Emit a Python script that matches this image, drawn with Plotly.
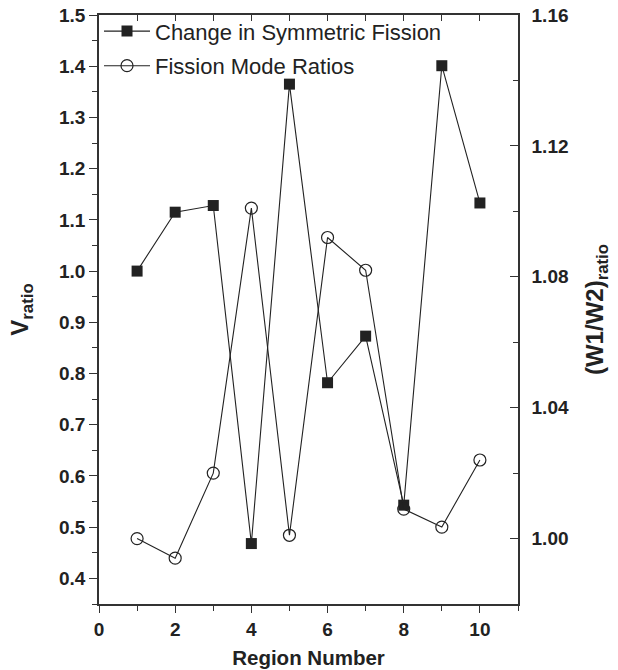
import plotly.graph_objects as go

regions = [1, 2, 3, 4, 5, 6, 7, 8, 9, 10]
v_ratio = [1.00, 1.115, 1.128, 0.468, 1.365, 0.782, 0.873, 0.543, 1.401, 1.133]
w_ratio = [1.000, 0.994, 1.020, 1.101, 1.001, 1.092, 1.082, 1.009, 1.0035, 1.024]

name_sq = "Change in Symmetric Fission"
name_ci = "Fission Mode Ratios"

C = "#222222"
AX = "#333333"
FONT = "Liberation Sans, Arial, sans-serif"

fig = go.Figure()
fig.add_trace(go.Scatter(
    x=regions, y=v_ratio, name=name_sq, mode="lines+markers",
    line=dict(color=C, width=1.1),
    marker=dict(symbol="square", size=11, color=C, line=dict(width=0)),
    xaxis="x", yaxis="y", legendgroup="a",
))
fig.add_trace(go.Scatter(
    x=regions, y=w_ratio, name=name_ci, mode="lines+markers",
    line=dict(color=C, width=1.1),
    marker=dict(symbol="circle-open", size=12, color=C, line=dict(width=1.2)),
    xaxis="x2", yaxis="y2", legendgroup="b",
))

fig.update_layout(
    width=618, height=670,
    margin=dict(l=99, r=100, t=15, b=66, autoexpand=False),
    paper_bgcolor="white", plot_bgcolor="white",
    font=dict(family=FONT, color=C),
    showlegend=True,
    legend=dict(x=0.0, y=1.008, xanchor="left", yanchor="top",
                bgcolor="rgba(0,0,0,0)", font=dict(size=22, color=C),
                tracegroupgap=3, itemwidth=46),
    xaxis=dict(
        range=[0, 11], tickmode="array", tickvals=[0, 2, 4, 6, 8, 10],
        ticks="outside", ticklen=7, tickwidth=1.3, tickcolor=AX,
        showline=True, linecolor=AX, linewidth=1.5, showgrid=False, zeroline=False,
        minor=dict(tickvals=[1, 3, 5, 7, 9, 11], ticks="outside", ticklen=5, tickwidth=1.3, tickcolor=AX),
        tickfont=dict(size=19, family=FONT, color=C, weight="bold"),
        automargin=False,
        title=dict(text="<b>Region Number</b>", font=dict(size=20.5, family=FONT, color=C), standoff=12),
    ),
    xaxis2=dict(
        range=[0, 11], overlaying="x", side="top", anchor="y",
        tickmode="array", tickvals=[0, 1, 2, 3, 4, 5, 6, 7, 8, 9, 10, 11],
        ticks="inside", ticklen=6, tickwidth=1.3, tickcolor=AX,
        showticklabels=False, showline=True, linecolor=AX, linewidth=1.5,
        showgrid=False, zeroline=False, automargin=False,
    ),
    yaxis=dict(
        range=[0.35, 1.5], tickmode="array",
        tickvals=[0.4, 0.5, 0.6, 0.7, 0.8, 0.9, 1.0, 1.1, 1.2, 1.3, 1.4, 1.5],
        ticktext=["0.4", "0.5", "0.6", "0.7", "0.8", "0.9", "1.0", "1.1", "1.2", "1.3", "1.4", "1.5"],
        ticks="outside", ticklen=8, tickwidth=1.3, tickcolor=AX,
        showline=True, linecolor=AX, linewidth=1.5, showgrid=False, zeroline=False,
        minor=dict(tickvals=[0.35, 0.45, 0.55, 0.65, 0.75, 0.85, 0.95, 1.05, 1.15, 1.25, 1.35, 1.45],
                   ticks="outside", ticklen=5, tickwidth=1.3, tickcolor=AX),
        tickfont=dict(size=19, family=FONT, color=C, weight="bold"),
        automargin=False,
        title=dict(text="<b>V<sub>ratio</sub></b>", font=dict(size=24, family=FONT, color=C), standoff=24),
    ),
    yaxis2=dict(
        range=[0.98, 1.16], overlaying="y", side="right", anchor="x2",
        tickmode="array", tickvals=[1.00, 1.04, 1.08, 1.12, 1.16],
        ticktext=["1.00", "1.04", "1.08", "1.12", "1.16"],
        ticks="inside", ticklen=8, tickwidth=1.3, tickcolor=AX,
        showline=True, linecolor=AX, linewidth=1.5, showgrid=False, zeroline=False,
        minor=dict(tickvals=[0.98, 1.02, 1.06, 1.10, 1.14], ticks="inside", ticklen=5, tickwidth=1.3, tickcolor=AX),
        ticklabelstandoff=8, automargin=False,
        tickfont=dict(size=19, family=FONT, color=C, weight="bold"),
        title=dict(text="<b>(W1/W2)<sub>ratio</sub></b>", font=dict(size=24, family=FONT, color=C), standoff=18),
    ),
)

fig.write_html("out.html")
